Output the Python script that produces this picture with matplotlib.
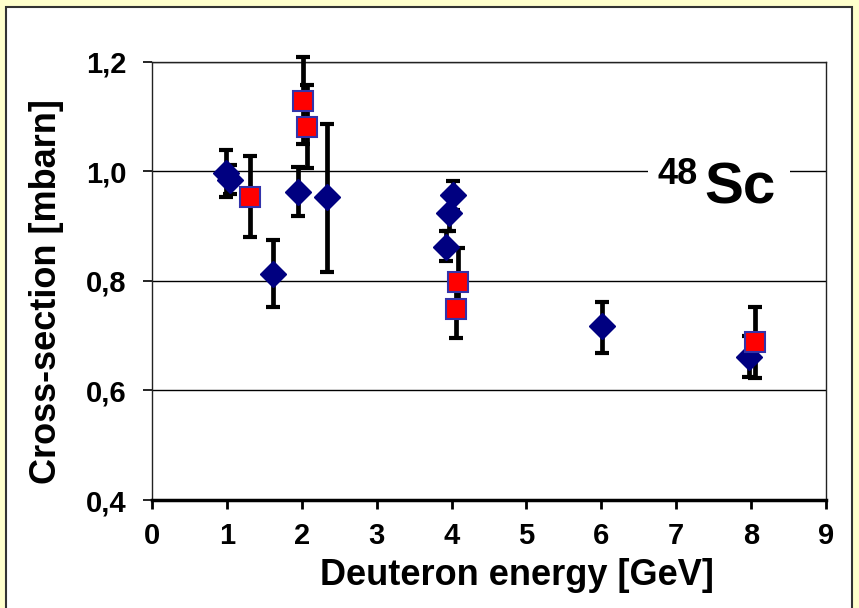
import matplotlib.pyplot as plt
from matplotlib.patches import Rectangle

plt.rcParams['font.family'] = ['Liberation Sans', 'DejaVu Sans']
plt.rcParams['font.weight'] = 'bold'

# blue diamonds
bx = [0.99, 1.04, 1.61, 1.95, 2.34, 3.93, 3.96, 4.02, 6.01, 7.97]
by = [0.998, 0.984, 0.812, 0.963, 0.954, 0.862, 0.924, 0.957, 0.717, 0.661]
b_lo = [0.953, 0.959, 0.752, 0.919, 0.816, 0.837, 0.891, 0.930, 0.668, 0.625]
b_hi = [1.039, 1.012, 0.874, 1.008, 1.087, 0.891, 0.957, 0.983, 0.762, 0.700]

# red squares
rx = [1.31, 2.01, 2.065, 4.08, 4.06, 8.05]
ry = [0.954, 1.129, 1.081, 0.799, 0.749, 0.688]
r_lo = [0.881, 1.050, 1.006, 0.745, 0.695, 0.623]
r_hi = [1.028, 1.210, 1.158, 0.860, 0.800, 0.752]

xticks = [0, 1, 2, 3, 4, 5, 6, 7, 8, 9]
yticks = [0.4, 0.6, 0.8, 1.0, 1.2]
ylabels = ['0,4', '0,6', '0,8', '1,0', '1,2']

W, H = 859, 608
fig = plt.figure(figsize=(W / 100, H / 100), dpi=100)
fig.patch.set_facecolor('#ffffcc')
fig.patches.append(Rectangle((6 / W, -0.05), 846 / W, 1.05 - 7 / H, transform=fig.transFigure,
                             facecolor='white', edgecolor='#333333', lw=1.5, zorder=-1))

ax = fig.add_axes([152 / W, 1 - 500 / H, 674 / W, 438 / H])
ax.set_facecolor('white')

for x, y, lo, hi in zip(bx, by, b_lo, b_hi):
    ax.errorbar(x, y, yerr=[[y - lo], [hi - y]], fmt='none', ecolor='black',
                elinewidth=3.4, capsize=5, capthick=3, zorder=3, clip_on=False)
for x, y, lo, hi in zip(rx, ry, r_lo, r_hi):
    ax.errorbar(x, y, yerr=[[y - lo], [hi - y]], fmt='none', ecolor='black',
                elinewidth=3.4, capsize=5, capthick=3, zorder=3, clip_on=False)

ax.plot(bx, by, 'D', color='#000080', ms=13, mec='#000080', zorder=4, clip_on=False)
ax.plot(rx, ry, 's', color='#ff0000', ms=14, mec='#3333aa', mew=1.5, zorder=5, clip_on=False)

ax.set_xlim(0, 9)
ax.set_ylim(0.4, 1.2)
ax.set_xticks(xticks)
ax.set_yticks(yticks)
ax.set_yticklabels(ylabels)
ax.tick_params(axis='both', direction='out', length=6.5, width=1.2, labelsize=21)
ax.tick_params(axis='y', pad=12)
ax.tick_params(axis='x', pad=9, width=2)
ax.grid(axis='y', color='black', lw=1)
for s in ['left', 'right', 'top']:
    ax.spines[s].set_linewidth(1)
    ax.spines[s].set_color('#222222')
ax.spines['bottom'].set_linewidth(2.5)
ax.set_axisbelow(True)

ax.set_xlabel('Deuteron energy [GeV]', fontsize=26, fontweight='bold')
ax.set_ylabel('Cross-section [mbarn]', fontsize=26, fontweight='bold')
ax.xaxis.set_label_coords(0.5415, -0.132)
ax.yaxis.set_label_coords(-0.1305, 0.477)

# white patch behind the isotope label, breaking the 1,0 gridline
ax.add_patch(Rectangle((0.736, 0.67), 0.211, 0.12, transform=ax.transAxes,
                       facecolor='white', edgecolor='none', zorder=1))
ax.text(657, H - 184, '48', transform=None, fontsize=26, fontweight='bold', zorder=2)
ax.text(704, H - 203, 'Sc', transform=None, fontsize=42, fontweight='bold', zorder=2)

fig.savefig('out.png', dpi=100, facecolor=fig.get_facecolor())
